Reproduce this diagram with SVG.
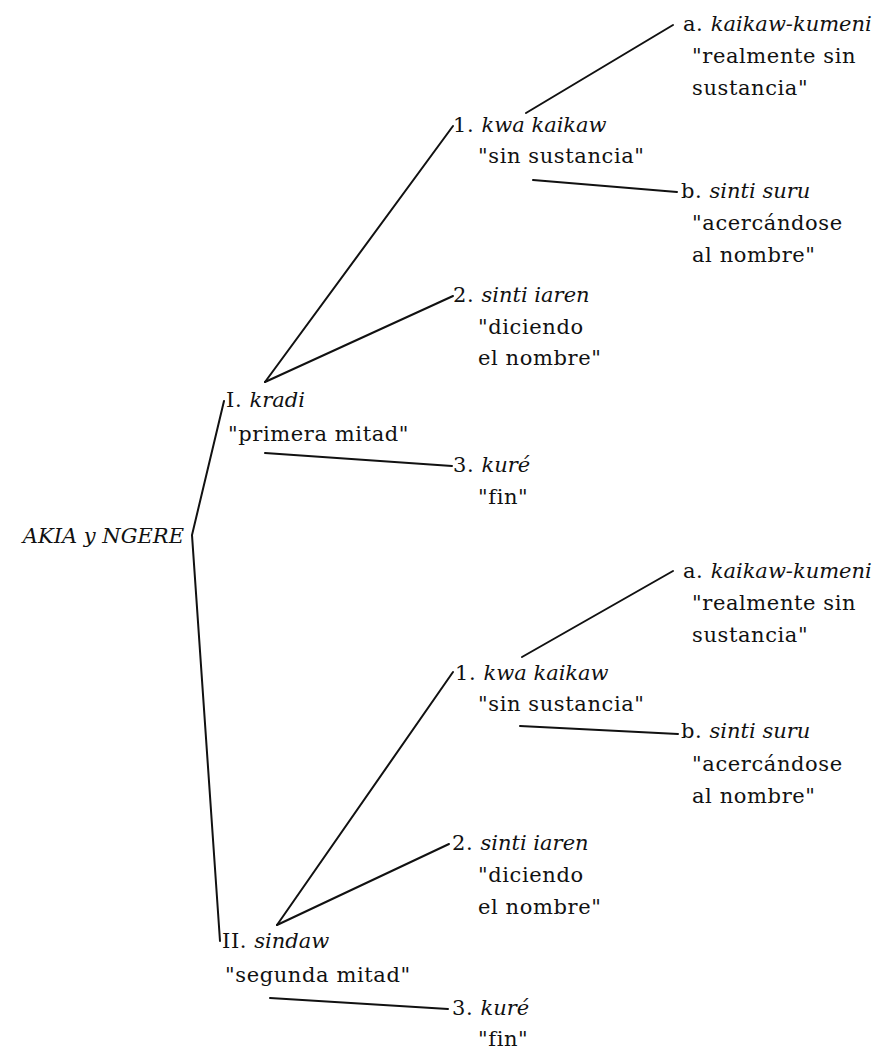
<svg xmlns="http://www.w3.org/2000/svg" width="879" height="1053" viewBox="0 0 879 1053">
<style>
text{font-family:"DejaVu Serif","Liberation Serif",serif;font-size:21px;fill:#111;letter-spacing:0.6px}
.i{font-style:italic;letter-spacing:0}
.c line,.c polyline{stroke:#111;stroke-width:2;fill:none;stroke-linecap:round}
</style>
<rect width="879" height="1053" fill="#fff"/>
<g class="c" id="connectors">
<polyline points="224,401 192,535 220,941"/>
<line x1="265" y1="382" x2="453" y2="126"/>
<line x1="265" y1="382" x2="453" y2="296"/>
<line x1="265" y1="453" x2="452" y2="466"/>
<line x1="526" y1="113" x2="673" y2="25"/>
<line x1="533" y1="180" x2="677" y2="192"/>
<line x1="277" y1="925" x2="453" y2="672"/>
<line x1="277" y1="925" x2="449" y2="844"/>
<line x1="270" y1="998" x2="448" y2="1009"/>
<line x1="522" y1="657" x2="673" y2="571"/>
<line x1="520" y1="726" x2="678" y2="734"/>
</g>
<g id="root"><text x="184" y="543" text-anchor="end" class="i">AKIA y NGERE</text></g>
<g id="n-I"><text x="226" y="407">I. <tspan class="i">kradi</tspan></text><text x="228" y="441">"primera mitad"</text></g>
<g id="n-I1"><text x="453" y="132">1. <tspan class="i">kwa kaikaw</tspan></text><text x="478" y="163">"sin sustancia"</text></g>
<g id="n-I1a"><text x="683" y="31">a. <tspan class="i">kaikaw-kumeni</tspan></text><text x="692" y="63">"realmente sin</text><text x="692" y="95">sustancia"</text></g>
<g id="n-I1b"><text x="681" y="198">b. <tspan class="i">sinti suru</tspan></text><text x="692" y="230">"acercándose</text><text x="692" y="262">al nombre"</text></g>
<g id="n-I2"><text x="453" y="302">2. <tspan class="i">sinti iaren</tspan></text><text x="478" y="334">"diciendo</text><text x="478" y="365">el nombre"</text></g>
<g id="n-I3"><text x="453" y="472">3. <tspan class="i">kuré</tspan></text><text x="478" y="504">"fin"</text></g>
<g id="n-II"><text x="222" y="948">II. <tspan class="i">sindaw</tspan></text><text x="225" y="982">"segunda mitad"</text></g>
<g id="n-II1"><text x="455" y="680">1. <tspan class="i">kwa kaikaw</tspan></text><text x="478" y="711">"sin sustancia"</text></g>
<g id="n-II1a"><text x="683" y="578">a. <tspan class="i">kaikaw-kumeni</tspan></text><text x="692" y="610">"realmente sin</text><text x="692" y="642">sustancia"</text></g>
<g id="n-II1b"><text x="681" y="738">b. <tspan class="i">sinti suru</tspan></text><text x="692" y="771">"acercándose</text><text x="692" y="803">al nombre"</text></g>
<g id="n-II2"><text x="452" y="850">2. <tspan class="i">sinti iaren</tspan></text><text x="478" y="882">"diciendo</text><text x="478" y="914">el nombre"</text></g>
<g id="n-II3"><text x="452" y="1015">3. <tspan class="i">kuré</tspan></text><text x="478" y="1046">"fin"</text></g>
</svg>
